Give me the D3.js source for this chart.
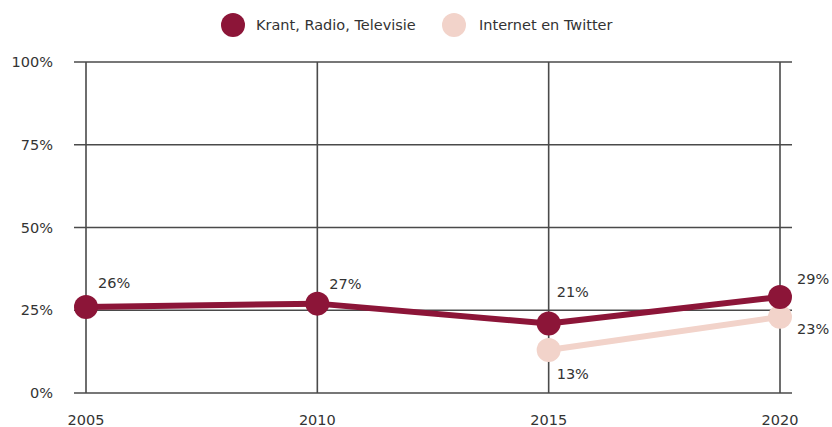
<!DOCTYPE html>
<html><head><meta charset="utf-8">
<script src="https://cdn.jsdelivr.net/npm/d3@7"></script>
<style>
body{margin:0;background:#fff;}
text{font-family:"DejaVu Sans", sans-serif;fill:#333;}
</style></head>
<body>
<svg id="chart" width="832" height="427"></svg>
<script>
const years = [2005, 2010, 2015, 2020];
const yTicks = [0, 25, 50, 75, 100];
const seriesNames = ["Krant, Radio, Televisie", "Internet en Twitter"];
const krant = [26, 27, 21, 29];
const internet = [null, null, 13, 23];
const colors = ["#8c1538", "#f2d3ca"];
const FS = 14.5;

const svg = d3.select("#chart");
const x = d3.scalePoint().domain(years).range([86, 780]);
const y = d3.scaleLinear().domain([0, 100]).range([393, 62]);

// grid
const g = svg.append("g");
g.selectAll(".h").data(yTicks).join("line")
  .attr("x1", 74).attr("x2", 792)
  .attr("y1", d => y(d)).attr("y2", d => y(d))
  .attr("stroke", "#4a4a4a").attr("stroke-width", 1.6);
g.selectAll(".v").data(years).join("line")
  .attr("x1", d => x(d)).attr("x2", d => x(d))
  .attr("y1", y(100)).attr("y2", y(0))
  .attr("stroke", "#4a4a4a").attr("stroke-width", 1.6);

// y tick labels
g.selectAll(".yl").data(yTicks).join("text")
  .attr("x", 53).attr("y", d => y(d)).attr("dy", "0.35em")
  .attr("text-anchor", "end").attr("font-size", FS)
  .text(d => d + "%");
// x tick labels
g.selectAll(".xl").data(years).join("text")
  .attr("x", d => x(d)).attr("y", 420).attr("dy", "0.35em")
  .attr("text-anchor", "middle").attr("font-size", FS)
  .text(d => d);

const line = d3.line().defined(d => d.v != null).x(d => x(d.year)).y(d => y(d.v));
const series = [krant, internet].map((vals, i) => ({
  name: seriesNames[i], color: colors[i],
  pts: vals.map((v, j) => ({year: years[j], v}))
}));

[1, 0].forEach(i => {
  const s = series[i];
  svg.append("path").datum(s.pts).attr("d", line)
    .attr("fill", "none").attr("stroke", s.color).attr("stroke-width", 6)
    .attr("stroke-linejoin", "round");
  svg.selectAll(null).data(s.pts.filter(d => d.v != null)).join("circle")
    .attr("cx", d => x(d.year)).attr("cy", d => y(d.v)).attr("r", 12)
    .attr("fill", s.color);
});

// value labels
const labelOff = [
  [[12, -24], [12, -20], [8, -32], [17, -18]],
  [null, null, [8, 24], [17, 12]]
];
series.forEach((s, i) => {
  s.pts.forEach((d, j) => {
    if (d.v == null) return;
    const o = labelOff[i][j];
    svg.append("text")
      .attr("x", x(d.year) + o[0]).attr("y", y(d.v) + o[1]).attr("dy", "0.35em")
      .attr("font-size", FS).text(d.v + "%");
  });
});

// legend
const legend = [[233, 256], [454, 479]];
series.forEach((s, i) => {
  svg.append("circle").attr("cx", legend[i][0]).attr("cy", 25).attr("r", 12).attr("fill", s.color);
  svg.append("text").attr("x", legend[i][1]).attr("y", 25).attr("dy", "0.35em")
    .attr("font-size", FS).text(s.name);
});
</script>
</body></html>
